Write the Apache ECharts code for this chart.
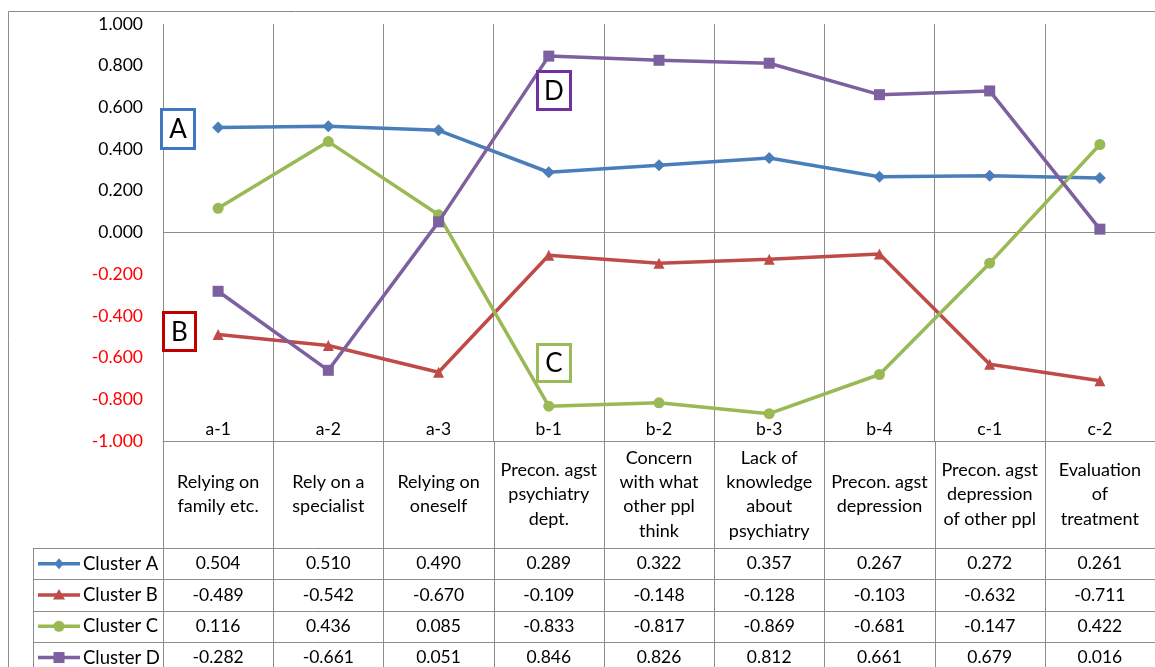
<!DOCTYPE html>
<html>
<head>
<meta charset="utf-8">
<script src="https://cdn.jsdelivr.net/npm/echarts@6/dist/echarts.min.js"></script>
<style>
  html, body { margin: 0; padding: 0; background: #ffffff; }
  #chart { width: 1155px; height: 667px; }
</style>
</head>
<body>
<div id="chart"></div>
<script>
// Item codes on the category axis and their descriptions (table header)
const itemCodes = ['a-1', 'a-2', 'a-3', 'b-1', 'b-2', 'b-3', 'b-4', 'c-1', 'c-2'];
const itemNames = [
  'Relying on\nfamily etc.',
  'Rely on a\nspecialist',
  'Relying on\noneself',
  'Precon. agst\npsychiatry\ndept.',
  'Concern\nwith what\nother ppl\nthink',
  'Lack of\nknowledge\nabout\npsychiatry',
  'Precon. agst\ndepression',
  'Precon. agst\ndepression\nof other ppl',
  'Evaluation\nof\ntreatment'
];

// Cluster scores per item
const clusterNames = ['Cluster A', 'Cluster B', 'Cluster C', 'Cluster D'];
const clusterA = [0.504, 0.510, 0.490, 0.289, 0.322, 0.357, 0.267, 0.272, 0.261];
const clusterB = [-0.489, -0.542, -0.670, -0.109, -0.148, -0.128, -0.103, -0.632, -0.711];
const clusterC = [0.116, 0.436, 0.085, -0.833, -0.817, -0.869, -0.681, -0.147, 0.422];
const clusterD = [-0.282, -0.661, 0.051, 0.846, 0.826, 0.812, 0.661, 0.679, 0.016];

// Value axis range
const yMin = -1;
const yMax = 1;
const yStep = 0.2;

// Cluster tags placed beside the lines
const tagLetters = ['A', 'B', 'C', 'D'];

const clusterValues = [clusterA, clusterB, clusterC, clusterD];
const clusterColors = ['#4A7EBB', '#BE4B48', '#98B954', '#7D60A0'];
const clusterSymbols = ['diamond', 'triangle', 'circle', 'rect'];
const tagColors = ['#3D78C0', '#C00000', '#9BBB59', '#7030A0'];
const gridColor = '#8C8C8C';
const FONT = 'Lato, "Open Sans", sans-serif';

const chart = echarts.init(document.getElementById('chart'), null, { renderer: 'canvas' });

const series = clusterNames.map((name, i) => ({
  name: name,
  type: 'line',
  data: clusterValues[i],
  symbol: clusterSymbols[i],
  symbolSize: clusterSymbols[i] === 'diamond' ? 12 : 11,
  lineStyle: { width: 3.5, color: clusterColors[i] },
  itemStyle: { color: clusterColors[i] },
  z: 3 + i
}));

// zero line drawn under the cluster lines
series.unshift({
  type: 'line',
  data: [],
  z: 1,
  silent: true,
  markLine: {
    silent: true,
    symbol: ['none', 'none'],
    label: { show: false },
    lineStyle: { color: gridColor, width: 1, type: 'solid' },
    data: [{ yAxis: 0 }],
    animation: false
  }
});

chart.setOption({
  animation: false,
  backgroundColor: '#ffffff',
  grid: { left: 163, right: -4, top: 24, bottom: 226 },
  xAxis: {
    type: 'category',
    data: itemCodes,
    boundaryGap: true,
    position: 'bottom',
    axisLine: { onZero: false, lineStyle: { color: gridColor, width: 1 } },
    axisTick: { show: false },
    axisLabel: {
      inside: true,
      margin: 3,
      interval: 0,
      color: '#000000',
      fontFamily: FONT,
      fontSize: 17.5
    },
    splitLine: { show: true, interval: 0, lineStyle: { color: gridColor, width: 1 } }
  },
  yAxis: {
    type: 'value',
    min: yMin,
    max: yMax,
    interval: yStep,
    axisLine: { show: false },
    axisTick: { show: false },
    splitLine: { show: false },
    axisLabel: {
      margin: 20,
      fontFamily: FONT,
      fontSize: 17.5,
      formatter: v => (Math.abs(v) < 1e-9 ? 0 : v).toFixed(3),
      color: v => (v < -1e-9 ? '#FF0000' : '#000000')
    }
  },
  series: series
});

// ---- data table under the plot ----
const colCenters = itemCodes.map((c, i) => chart.convertToPixel({ xAxisIndex: 0 }, i));
const colHalf = (colCenters[1] - colCenters[0]) / 2;
const plotLeft = colCenters[0] - colHalf;
const plotRight = colCenters[colCenters.length - 1] + colHalf;
const tableTop = chart.convertToPixel({ yAxisIndex: 0 }, yMin);
const headerBottom = 548;
const rowH = 31.3;
const keyLeft = 33;
const tableBottom = 700;

const g = [];
const px = v => Math.round(v) + 0.5;
const lineEl = (x1, y1, x2, y2, color, w) => ({
  type: 'line', silent: true, z: 10,
  shape: { x1, y1, x2, y2 },
  style: { stroke: color || gridColor, lineWidth: w || 1 }
});

// outer chart-area frame
g.push({
  type: 'rect', silent: true, z: 0,
  shape: { x: 8.5, y: 11.5, width: 1300, height: 800 },
  style: { fill: 'none', stroke: gridColor, lineWidth: 1 }
});

// column separators inside the table
for (let i = 0; i <= itemCodes.length; i++) {
  const x = px(plotLeft + i * colHalf * 2);
  g.push(lineEl(x, tableTop, x, tableBottom));
}
// left edge of the key column
g.push(lineEl(px(keyLeft), headerBottom, px(keyLeft), tableBottom));
// row separators
for (let r = 0; r <= clusterNames.length; r++) {
  const y = px(headerBottom + r * rowH);
  g.push(lineEl(keyLeft, y, plotRight, y));
}

// header cells: item descriptions
itemNames.forEach((name, i) => {
  g.push({
    type: 'text', silent: true, z: 11,
    x: colCenters[i], y: (tableTop + headerBottom) / 2,
    style: {
      text: name, fill: '#000000', font: '18px ' + FONT,
      align: 'center', verticalAlign: 'middle', lineHeight: 24.3
    }
  });
});

// data cells and legend keys
clusterNames.forEach((name, r) => {
  const cy = headerBottom + rowH * (r + 0.5);
  clusterValues[r].forEach((v, i) => {
    g.push({
      type: 'text', silent: true, z: 11,
      x: colCenters[i], y: cy,
      style: {
        text: v.toFixed(3), fill: '#000000', font: '17.5px ' + FONT,
        align: 'center', verticalAlign: 'middle'
      }
    });
  });
  const col = clusterColors[r];
  g.push(lineEl(38, cy, 80, cy, col, 3.5));
  const mx = 59, s = 5.5;
  let marker;
  if (clusterSymbols[r] === 'diamond') {
    marker = { type: 'polygon', shape: { points: [[mx, cy - s], [mx + s * 0.85, cy], [mx, cy + s], [mx - s * 0.85, cy]] } };
  } else if (clusterSymbols[r] === 'triangle') {
    marker = { type: 'polygon', shape: { points: [[mx, cy - s - 0.5], [mx + s + 0.5, cy + s - 1], [mx - s - 0.5, cy + s - 1]] } };
  } else if (clusterSymbols[r] === 'circle') {
    marker = { type: 'circle', shape: { cx: mx, cy: cy, r: s } };
  } else {
    marker = { type: 'rect', shape: { x: mx - s, y: cy - s, width: 2 * s, height: 2 * s } };
  }
  marker.silent = true;
  marker.z = 12;
  marker.style = { fill: col, stroke: 'none' };
  g.push(marker);
  g.push({
    type: 'text', silent: true, z: 11,
    x: 83, y: cy,
    style: {
      text: name, fill: '#000000', font: '18.5px ' + FONT,
      align: 'left', verticalAlign: 'middle'
    }
  });
});

// cluster tags
const tagBoxes = [
  { x: 161.5, y: 109.5, w: 33, h: 39 },
  { x: 163.5, y: 312.5, w: 32, h: 38 },
  { x: 537.5, y: 344.5, w: 33, h: 37 },
  { x: 537.5, y: 71.5, w: 33, h: 38 }
];
tagLetters.forEach((t, i) => {
  const b = tagBoxes[i];
  g.push({
    type: 'rect', silent: true, z: 20,
    shape: { x: b.x, y: b.y, width: b.w, height: b.h },
    style: { fill: '#ffffff', stroke: tagColors[i], lineWidth: 3 }
  });
  g.push({
    type: 'text', silent: true, z: 21,
    x: b.x + b.w / 2, y: b.y + b.h / 2 + 1,
    style: {
      text: t, fill: '#000000', font: '26px ' + FONT,
      align: 'center', verticalAlign: 'middle'
    }
  });
});

chart.setOption({ graphic: g });
</script>
</body>
</html>
